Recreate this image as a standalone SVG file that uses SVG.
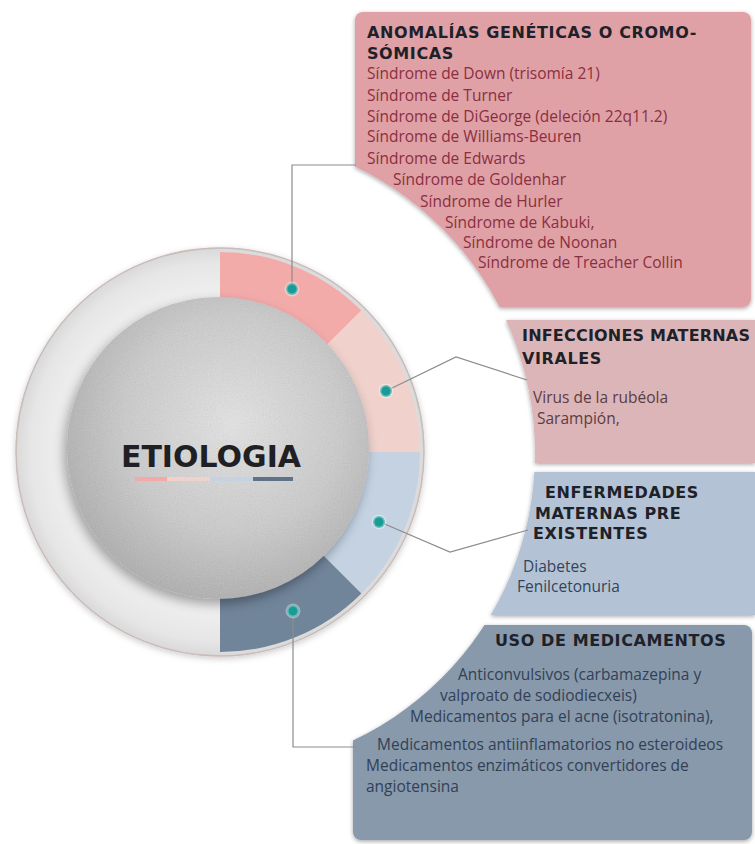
<svg xmlns="http://www.w3.org/2000/svg" width="755" height="844" viewBox="0 0 755 844">
<style>
.hd{font-family:"DejaVu Sans","Liberation Sans",sans-serif;font-weight:bold;font-size:16px;letter-spacing:0.6px;fill:#1f2129}
.tx{font-family:"Open Sans","Liberation Sans",sans-serif;font-size:15.5px}
.t1{fill:#8a2f40}
.t2{fill:#5a3d44}
.t3{fill:#34435a}
.t4{fill:#334055}
.conn{fill:none;stroke:#8c8c8c;stroke-width:1.2}
.dot{fill:#1a9b95;stroke:#ffffff;stroke-opacity:.35;stroke-width:3}
</style>
<defs>
<filter id="boxShadow" x="-5%" y="-5%" width="110%" height="110%">
<feDropShadow dx="0" dy="1.5" stdDeviation="2" flood-color="#000" flood-opacity="0.35"/>
</filter>
<filter id="sphShadow" x="-20%" y="-20%" width="140%" height="140%">
<feDropShadow dx="-3" dy="5" stdDeviation="6" flood-color="#000" flood-opacity="0.35"/>
</filter>
<filter id="ringShadow" x="-10%" y="-10%" width="120%" height="120%">
<feDropShadow dx="0" dy="2" stdDeviation="3" flood-color="#000" flood-opacity="0.2"/>
</filter>
<filter id="grain" x="0" y="0" width="100%" height="100%">
<feTurbulence type="fractalNoise" baseFrequency="0.85" numOctaves="2" seed="3" result="n"/>
<feColorMatrix in="n" type="saturate" values="0" result="g"/>
<feComposite in="g" in2="SourceGraphic" operator="in"/>
</filter>
<radialGradient id="sphGrad" cx="0.55" cy="0.42" r="0.6">
<stop offset="0" stop-color="#e4e4e4"/>
<stop offset="0.6" stop-color="#cbcbcb"/>
<stop offset="1" stop-color="#adadad"/>
</radialGradient>
<radialGradient id="ringGrad" cx="0.5" cy="0.5" r="0.5">
<stop offset="0.7" stop-color="#f3f3f3"/>
<stop offset="0.93" stop-color="#e6e6e6"/>
<stop offset="1" stop-color="#d9d9d9"/>
</radialGradient>
<mask id="cut">
<rect x="0" y="0" width="755" height="844" fill="#fff"/>
<circle cx="217" cy="453" r="318" fill="#000"/>
</mask>
</defs>
<rect x="0" y="0" width="755" height="844" fill="#ffffff"/>

<g id="boxes" filter="url(#boxShadow)">
<g mask="url(#cut)">
<rect id="box1-bg" x="355" y="12" width="396" height="295" rx="8" fill="#dfa1a6"/>
<rect id="box2-bg" x="500" y="320" width="270" height="143" rx="8" fill="#dcb5b8"/>
<rect id="box3-bg" x="480" y="472" width="290" height="143" rx="8" fill="#b3c3d5"/>
<rect id="box4-bg" x="353" y="625" width="399" height="215" rx="8" fill="#8799ab"/>
</g>
</g>

<g id="ring">
<circle cx="220" cy="452" r="204" fill="url(#ringGrad)" stroke="#c9bcb9" stroke-width="1.5" filter="url(#ringShadow)"/>
<path d="M220,252 A200,200 0 0 1 361.42,310.58 L318.99,353.01 A140,140 0 0 0 220,312 Z" fill="#f3abaa"/>
<path d="M361.42,310.58 A200,200 0 0 1 420,452 L360,452 A140,140 0 0 0 318.99,353.01 Z" fill="#f0d1cc"/>
<path d="M420,452 A200,200 0 0 1 361.42,593.42 L318.99,550.99 A140,140 0 0 0 360,452 Z" fill="#c4d2e2"/>
<path d="M361.42,593.42 A200,200 0 0 1 220,652 L220,592 A140,140 0 0 0 318.99,550.99 Z" fill="#70849a"/>
</g>

<g id="center">
<circle cx="218" cy="448" r="151" fill="url(#sphGrad)" filter="url(#sphShadow)"/>
<circle cx="218" cy="448" r="151" fill="#888" filter="url(#grain)" opacity="0.25"/>
<text x="211" y="467" text-anchor="middle" font-family="DejaVu Sans, Liberation Sans, sans-serif" font-weight="bold" font-size="30" fill="#1f1f24">ETIOLOGIA</text>
<rect x="135" y="477" width="32" height="4" fill="#f2a9a8"/>
<rect x="167" y="477" width="43" height="4" fill="#f0d1cc"/>
<rect x="210" y="477" width="43" height="4" fill="#c4d2e2"/>
<rect x="253" y="477" width="40" height="4" fill="#5f7287"/>
</g>

<g id="connectors">
<path class="conn" d="M292,290 V165 H356"/>
<path class="conn" d="M386,391 L456,357 L527,380"/>
<path class="conn" d="M380,522 L450,552 L528,530"/>
<path class="conn" d="M293,612 V747 H356"/>
<circle class="dot" cx="292" cy="289" r="6"/>
<circle class="dot" cx="386" cy="391" r="6"/>
<circle class="dot" cx="379" cy="522" r="6"/>
<circle class="dot" cx="293" cy="611" r="6"/>
</g>

<g id="box1">
<text class="hd" x="367" y="38">ANOMALÍAS GENÉTICAS O CROMO-</text>
<text class="hd" x="367" y="59">SÓMICAS</text>
<text class="tx t1" x="367" y="79">Síndrome de Down (trisomía 21)</text>
<text class="tx t1" x="367" y="101">Síndrome de Turner</text>
<text class="tx t1" x="367" y="122">Síndrome de DiGeorge (deleción 22q11.2)</text>
<text class="tx t1" x="367" y="142">Síndrome de Williams-Beuren</text>
<text class="tx t1" x="367" y="164">Síndrome de Edwards</text>
<text class="tx t1" x="393" y="185">Síndrome de Goldenhar</text>
<text class="tx t1" x="420" y="207">Síndrome de Hurler</text>
<text class="tx t1" x="445" y="228">Síndrome de Kabuki,</text>
<text class="tx t1" x="463" y="248">Síndrome de Noonan</text>
<text class="tx t1" x="478" y="268">Síndrome de Treacher Collin</text>
</g>

<g id="box2">
<text class="hd" x="522" y="341" style="letter-spacing:0.2px">INFECCIONES MATERNAS</text>
<text class="hd" x="522" y="364">VIRALES</text>
<text class="tx t2" x="533" y="403">Virus de la rubéola</text>
<text class="tx t2" x="537" y="424">Sarampión,</text>
</g>

<g id="box3">
<text class="hd" x="545" y="498">ENFERMEDADES</text>
<text class="hd" x="535" y="519">MATERNAS PRE</text>
<text class="hd" x="533" y="539">EXISTENTES</text>
<text class="tx t3" x="523" y="572">Diabetes</text>
<text class="tx t3" x="517" y="592">Fenilcetonuria</text>
</g>

<g id="box4">
<text class="hd" x="495" y="646">USO DE MEDICAMENTOS</text>
<text class="tx t4" x="458" y="680">Anticonvulsivos (carbamazepina y</text>
<text class="tx t4" x="440" y="701">valproato de sodiodiecxeis)</text>
<text class="tx t4" x="410" y="722">Medicamentos para el acne (isotratonina),</text>
<text class="tx t4" x="377" y="750">Medicamentos antiinflamatorios no esteroideos</text>
<text class="tx t4" x="366" y="771">Medicamentos enzimáticos convertidores de</text>
<text class="tx t4" x="366" y="792">angiotensina</text>
</g>
</svg>
